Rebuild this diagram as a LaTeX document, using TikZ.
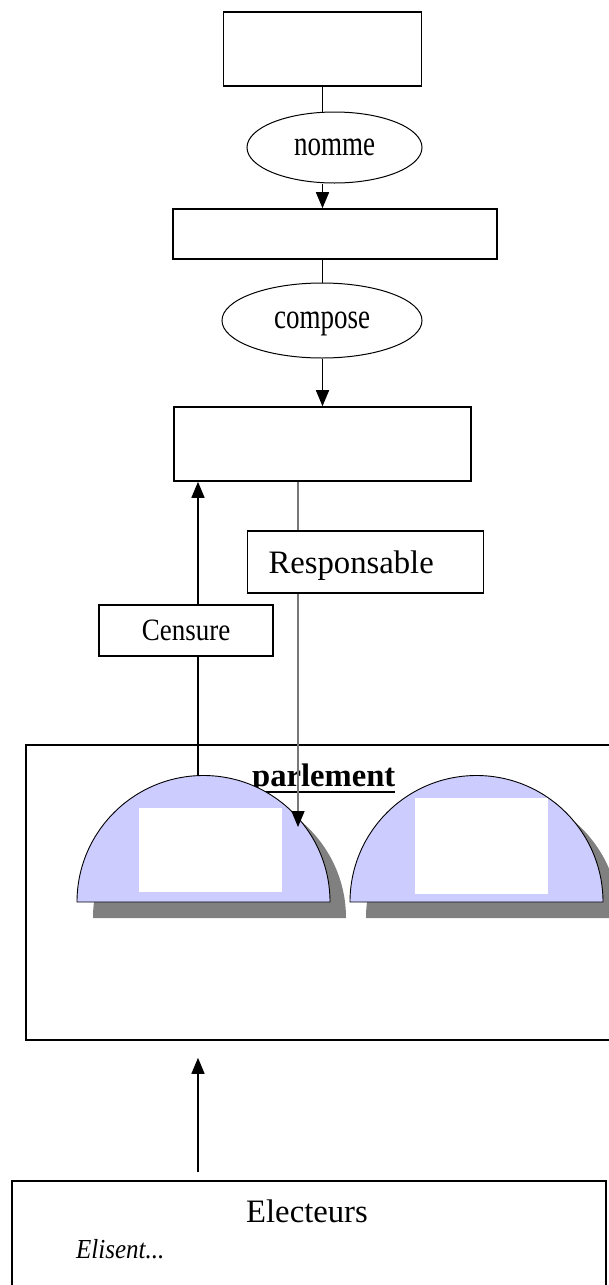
\documentclass[tikz,border=0pt]{standalone}
\usepackage{graphicx}
\usepackage{fontspec}
\setmainfont{Liberation Serif}
\usetikzlibrary{arrows.meta,shapes.geometric,calc}
\definecolor{domeblue}{RGB}{204,204,255}
\definecolor{shadowgray}{RGB}{128,128,128}
\definecolor{linegray}{RGB}{120,120,120}
\begin{document}
\begin{tikzpicture}[x=1pt,y=-1pt,
  box/.style={draw,line width=1.6pt,fill=white,inner sep=0pt},
  oval/.style={ellipse,draw,line width=1pt,fill=white,inner sep=0pt,text depth=0pt},
  link/.style={line width=1.6pt},
  arr/.style={line width=1.6pt,-{Triangle[width=13pt,length=16pt]}},
  grayarr/.style={line width=1.6pt,draw=linegray,-{Triangle[width=13pt,length=16pt,color=black]}},
  grayline/.style={line width=1.6pt,draw=linegray},
  ovaltext/.style={font=\fontsize{27}{30}\selectfont},
  bigtext/.style={font=\fontsize{32.7}{36}\selectfont},
  dome/.style={fill=domeblue,draw=black,line width=0.9pt},
  domeshadow/.style={fill=shadowgray},
  hole/.style={fill=white}
]
\clip (0,0) rectangle (609,1285);
\fill[white] (0,0) rectangle (609,1285);

% top chain
\node[box,minimum width=198,minimum height=74] (top) at (322.5,49) {};
\node[oval,ovaltext,minimum width=175,minimum height=71] (nomme) at (334.5,147.5) {\scalebox{1}[1.3]{nomme}};
\node[box,minimum width=324,minimum height=50] (mid) at (335,234) {};
\node[oval,ovaltext,minimum width=200,minimum height=75] (compose) at (322,320.5) {\scalebox{1}[1.3]{compose}};
\node[box,minimum width=297,minimum height=74] (gov) at (322.5,444) {};

\draw[link] (top.south) -- (top.south |- nomme.north);
\draw[arr] (top.south |- nomme.south) -- (top.south |- mid.north);
\draw[link] (top.south |- mid.south) -- (top.south |- compose.north);
\draw[arr] (top.south |- compose.south) -- (top.south |- gov.north);

% parlement
\node[box,minimum width=614,minimum height=295] (parl) at (333,892.5) {};
\node[anchor=base west,inner sep=0pt,font=\fontsize{32.6}{36}\selectfont\bfseries] (parltxt) at (252,786) {parlement};
\draw[line width=2.5pt] ([yshift=-6pt]parltxt.base west) -- ([yshift=-6pt]parltxt.base east);

\fill[domeshadow] (93,918) arc[start angle=180,end angle=360,radius=126.5] -- cycle;
\filldraw[dome] (77,902) arc[start angle=180,end angle=360,radius=126.5] -- cycle;
\fill[hole] (139,808) rectangle (282,892);
\fill[domeshadow] (366,918) arc[start angle=180,end angle=360,radius=126.5] -- cycle;
\filldraw[dome] (350,902) arc[start angle=180,end angle=360,radius=126.5] -- cycle;
\fill[hole] (415,798) rectangle (548,894);

% censure / responsable
\node[box,minimum width=174,minimum height=51,font=\fontsize{27}{30}\selectfont] (censure) at (186,630.5) {\scalebox{1}[1.15]{Censure}};
\node[box,bigtext,text width=194,align=left,inner xsep=21,inner ysep=0pt,minimum height=62,text depth=0pt] (resp) at (365.5,562) {Responsable};

\coordinate (d1top) at (198,775.6);
\coordinate (rtip) at (298,827);
\draw[link] (d1top) -- (d1top |- censure.south);
\draw[arr] (d1top |- censure.north) -- (d1top |- gov.south);
\draw[grayline] (rtip |- gov.south) -- (rtip |- resp.north);
\draw[grayarr] (rtip |- resp.south) -- (rtip);

% electeurs
\node[box,minimum width=594,minimum height=200] (elect) at (309,1281) {};
\node[bigtext,anchor=base,inner sep=0pt] (electxt) at (307,1222) {Electeurs};
\node[anchor=base west,inner sep=0pt,font=\fontsize{25}{28}\selectfont\itshape] (elis) at (76,1258) {\scalebox{1}[1.1]{Elisent...}};
\draw[arr] ([yshift=8pt]elect.north -| d1top) -- ([yshift=-17pt]parl.south -| d1top);
\end{tikzpicture}
\end{document}
